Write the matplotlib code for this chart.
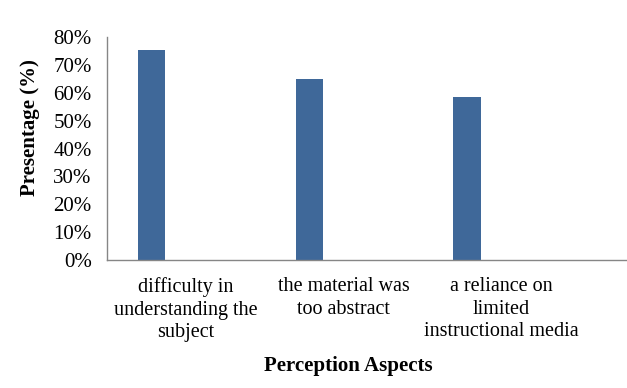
import numpy as np
import matplotlib
matplotlib.use("Agg")
import matplotlib.pyplot as plt
from matplotlib.ticker import PercentFormatter

plt.rcParams['font.family'] = ['Liberation Serif', 'DejaVu Serif']

categories = ["difficulty in\nunderstanding the\nsubject",
              "the material was\ntoo abstract",
              "a reliance on\nlimited\ninstructional media"]
values = [0.755, 0.65, 0.583]
yticks = [0, 0.1, 0.2, 0.3, 0.4, 0.5, 0.6, 0.7, 0.8]

fig = plt.figure(figsize=(6.27, 3.88), dpi=100)
ax = fig.add_axes([107/627, 1-260/388, (626-107)/627, (260-37)/388])

x = np.arange(len(categories))
ax.bar(x - 0.218, values, width=0.172, color="#3F6899")

ax.set_xlim(-0.5, 2.79)
ax.set_ylim(0, 0.8)
ax.set_yticks(yticks)
ax.yaxis.set_major_formatter(PercentFormatter(1.0, decimals=0))
ax.set_xticks(x)
ax.set_xticklabels(categories, linespacing=1.24)
ax.tick_params(axis='y', length=0, pad=11, labelsize=15)
ax.tick_params(axis='x', length=0, pad=12.5, labelsize=14.5)

for s in ['top', 'right']:
    ax.spines[s].set_visible(False)
for s in ['left', 'bottom']:
    ax.spines[s].set_color("#868686")
    ax.spines[s].set_linewidth(1.0)

fig.text(30/627, 1-128/388, "Presentage (%)", fontsize=15, fontweight='bold',
         rotation=90, ha='center', va='center')
fig.text(348/627, 1-366/388, "Perception Aspects", fontsize=15, fontweight='bold',
         ha='center', va='center')

fig.savefig("out.png", dpi=100)
